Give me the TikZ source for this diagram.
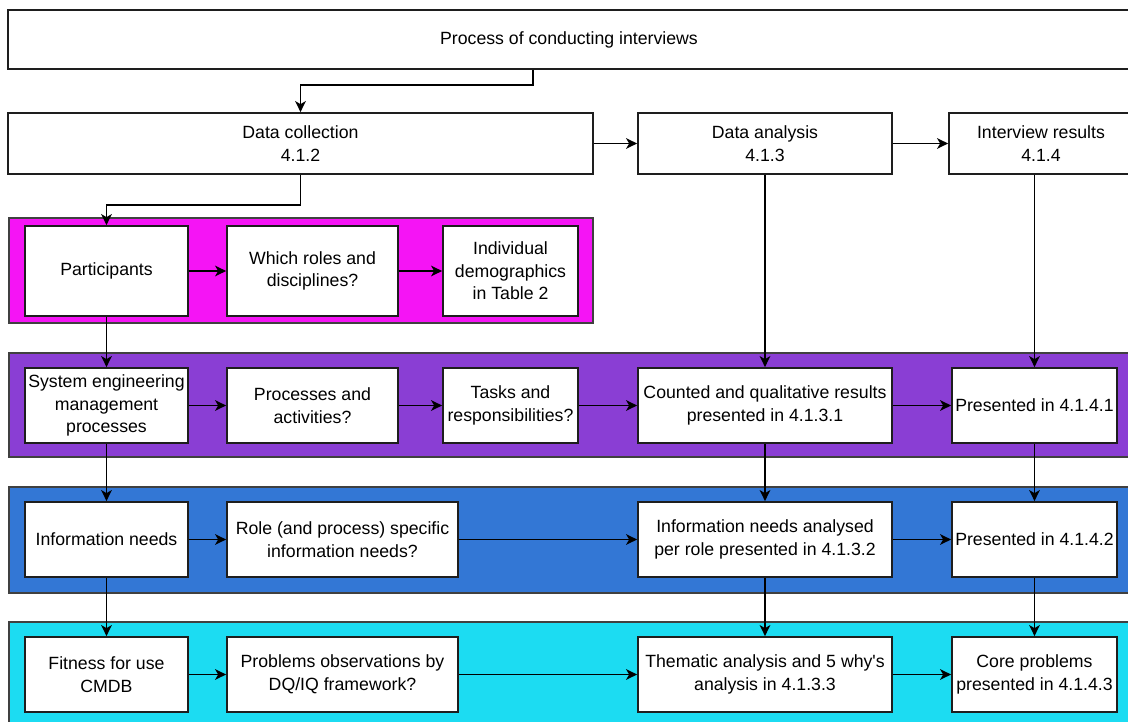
\documentclass[tikz,border=0pt]{standalone}
\usepackage{fontspec}
% plain family: straight apostrophes, no TeX quote mapping
\newfontfamily\plainsans{Liberation Sans}
\usetikzlibrary{arrows.meta}

\definecolor{bandmagenta}{RGB}{245,20,245}
\definecolor{bandpurple}{RGB}{138,62,212}
\definecolor{bandblue}{RGB}{51,119,213}
\definecolor{bandcyan}{RGB}{28,220,242}
\definecolor{edgegrey}{RGB}{30,30,30}

\tikzset{
  box/.style={draw=edgegrey, line width=1.7pt, fill=white, inner sep=0pt,
    align=center, font=\plainsans\fontsize{17.7}{22.5}\selectfont},
  band/.style={draw=edgegrey!85, line width=1.7pt},
  arr/.style={draw=black, line width=1.8pt,
    -{Stealth[length=11pt, width=10.5pt, inset=3pt]}},
}

\begin{document}
\begin{tikzpicture}[x=1pt, y=-1pt]
  \useasboundingbox (0,0) rectangle (1128,722);
  \clip (0,0) rectangle (1128,722);

  % coloured lanes behind the step boxes
  \path[band, fill=bandmagenta] (9,218) rectangle (593,323);
  \path[band, fill=bandpurple]  (9,353) rectangle (1145,457);
  \path[band, fill=bandblue]    (9,487) rectangle (1145,593);
  \path[band, fill=bandcyan]    (9,622) rectangle (1145,745);

  % header and phase boxes
  \node[box, minimum width=1122pt, minimum height=59pt] (top) at (569,39.5)
    {Process of conducting interviews};
  \node[box, minimum width=585pt, minimum height=61pt] (dc) at (300.5,143.5)
    {Data collection\\4.1.2};
  \node[box, minimum width=254pt, minimum height=61pt] (da) at (765,143.5)
    {Data analysis\\4.1.3};
  \node[box, minimum width=184pt, minimum height=61pt] (ir) at (1041,143.5)
    {Interview results\\4.1.4};

  % lane 1: participants
  \node[box, minimum width=163pt, minimum height=90pt] (p) at (106.5,271)
    {Participants};
  \node[box, minimum width=171pt, minimum height=90pt] (w) at (312.5,271)
    {Which roles and\\disciplines?};
  \node[box, minimum width=135pt, minimum height=90pt] (ind) at (510.5,271)
    {Individual\\demographics\\in Table 2};

  % lane 2: processes
  \node[box, minimum width=163pt, minimum height=75pt] (semp) at (106.5,405.5)
    {System engineering\\management\\processes};
  \node[box, minimum width=171pt, minimum height=75pt] (proc) at (312.5,405.5)
    {Processes and\\activities?};
  \node[box, minimum width=135pt, minimum height=75pt] (tasks) at (510.5,405.5)
    {Tasks and\\responsibilities?};
  \node[box, minimum width=254pt, minimum height=75pt] (cnt) at (765,405.5)
    {Counted and qualitative results\\presented in 4.1.3.1};
  \node[box, minimum width=165pt, minimum height=75pt] (pa) at (1034.5,405.5)
    {Presented in 4.1.4.1};

  % lane 3: information needs
  \node[box, minimum width=163pt, minimum height=75pt] (inf) at (106.5,539.5)
    {Information needs};
  \node[box, minimum width=231pt, minimum height=75pt] (role) at (342.5,539.5)
    {Role (and process) specific\\information needs?};
  \node[box, minimum width=254pt, minimum height=75pt] (ana) at (765,539.5)
    {Information needs analysed\\per role presented in 4.1.3.2};
  \node[box, minimum width=165pt, minimum height=75pt] (pb) at (1034.5,539.5)
    {Presented in 4.1.4.2};

  % lane 4: fitness for use
  \node[box, minimum width=163pt, minimum height=75pt] (fit) at (106.5,674.5)
    {Fitness for use\\CMDB};
  \node[box, minimum width=231pt, minimum height=75pt] (prob) at (342.5,674.5)
    {Problems observations by\\DQ/IQ framework?};
  \node[box, minimum width=254pt, minimum height=75pt] (them) at (765,674.5)
    {Thematic analysis and 5 why's\\analysis in 4.1.3.3};
  \node[box, minimum width=165pt, minimum height=75pt] (core) at (1034.5,674.5)
    {Core problems\\presented in 4.1.4.3};

  % phase connectors
  \draw[arr] ([xshift=-36pt]top.south) -- ++(0,15) -| (dc.north);
  \draw[arr] (dc.east) -- (da.west);
  \draw[arr] (da.east) -- (ir.west);
  \draw[arr] (dc.south) -- ++(0,30) -| (p.north);
  \draw[arr] (da.south) -- (cnt.north);
  \draw[arr] (ir.south -| pa.north) -- (pa.north);

  % lane 1 flow
  \draw[arr] (p.east) -- (w.west);
  \draw[arr] (w.east) -- (ind.west);

  % lane 2 flow
  \draw[arr] (semp.east) -- (proc.west);
  \draw[arr] (proc.east) -- (tasks.west);
  \draw[arr] (tasks.east) -- (cnt.west);
  \draw[arr] (cnt.east) -- (pa.west);

  % lane 3 flow
  \draw[arr] (inf.east) -- (role.west);
  \draw[arr] (role.east) -- (ana.west);
  \draw[arr] (ana.east) -- (pb.west);

  % lane 4 flow
  \draw[arr] (fit.east) -- (prob.west);
  \draw[arr] (prob.east) -- (them.west);
  \draw[arr] (them.east) -- (core.west);

  % vertical links between lanes
  \draw[arr] (p.south) -- (semp.north);
  \draw[arr] (semp.south) -- (inf.north);
  \draw[arr] (inf.south) -- (fit.north);
  \draw[arr] (cnt.south) -- (ana.north);
  \draw[arr] (ana.south) -- (them.north);
  \draw[arr] (pa.south) -- (pb.north);
  \draw[arr] (pb.south) -- (core.north);
\end{tikzpicture}
\end{document}
